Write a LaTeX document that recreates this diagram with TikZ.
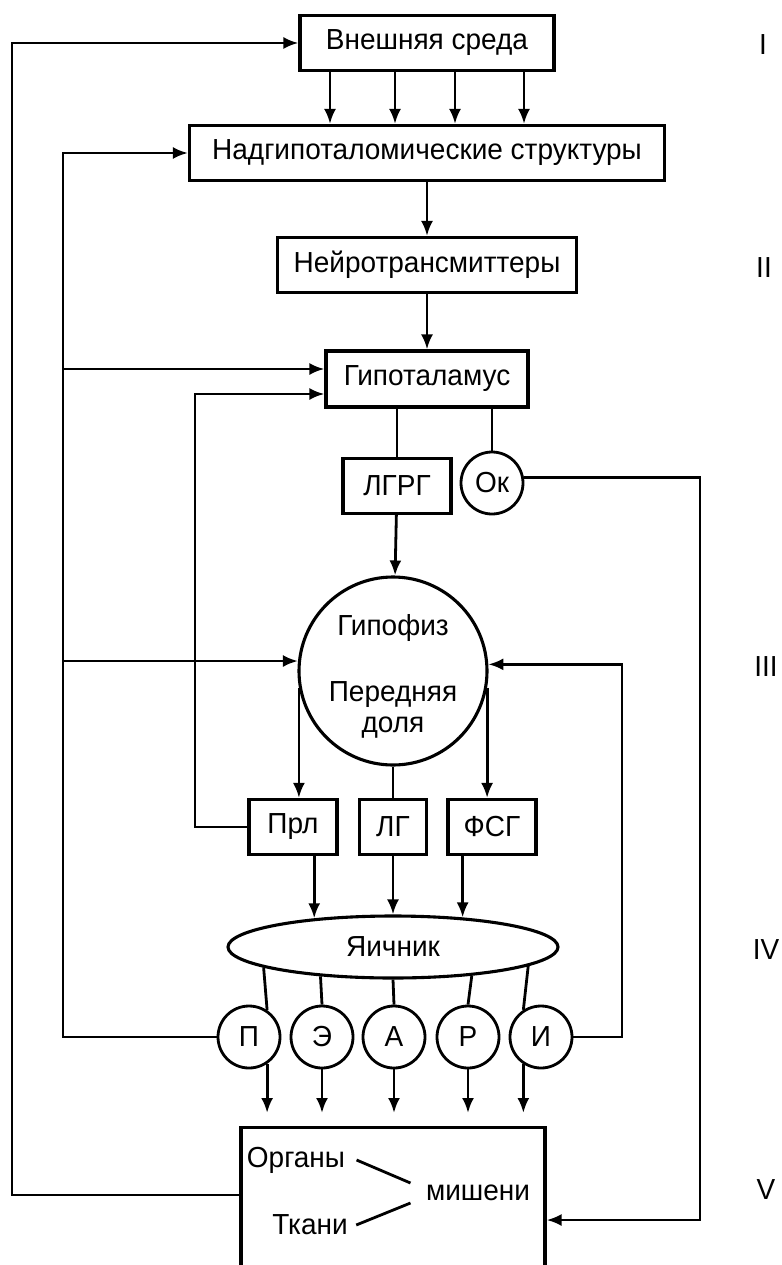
\documentclass[tikz,border=0pt]{standalone}
\usepackage{fontspec}
\setmainfont[FakeStretch=0.965]{Liberation Sans}
\usetikzlibrary{arrows.meta,shapes.geometric}

\tikzset{
  box/.style={draw, line width=3.1pt, minimum height=55pt, inner sep=0pt},
  ring/.style={draw, circle, line width=2.8pt, minimum size=62pt, inner sep=0pt},
  link/.style={line width=2.8pt},
  feed/.style={line width=2.8pt, -{Latex[length=15pt,width=12pt]}},
}

\begin{document}
\begin{tikzpicture}[x=1pt,y=-1pt,font=\fontsize{29}{33}\selectfont]
\path[fill=white] (0,0) rectangle (781,1265);
\useasboundingbox (0,0) rectangle (781,1265);
% Upper chain
\node[box,minimum width=254pt] (env) at (427,43) {Внешняя среда};
\node[box,minimum width=475pt] (supra) at (427,153) {Надгипоталомические структуры};
\node[box,minimum width=299pt] (nt) at (427,265) {Нейротрансмиттеры};
\node[box,minimum width=202pt,minimum height=56pt] (hyp) at (427,379) {Гипоталамус};
\node[box,minimum width=108pt] (lhrh) at (397,486) {ЛГРГ};
\node[ring] (ok) at (492,483) {Ок};
% Pituitary
\node[draw,circle,line width=3.1pt,minimum size=188pt,inner sep=0pt] (pit) at (393,671) {};
\node (pit1) at (393,628) {Гипофиз};
\node (pit2) at (393,695) {Передняя};
\node (pit3) at (393,728) {доля};
\node[box,minimum width=88pt] (prl) at (293,827) {Прл};
\node[box,minimum width=67pt] (lg) at (393,827) {ЛГ};
\node[box,minimum width=88pt] (fsh) at (492,827) {ФСГ};
% Ovary and its hormones
\node[draw,ellipse,line width=3.1pt,minimum width=330pt,minimum height=62pt,inner sep=0pt] (ov) at (393,947) {Яичник};
\foreach \n/\t/\x in {hp/П/249, he/Э/322, ha/А/394, hr/Р/468, hi/И/541}
  \node[ring] (\n) at (\x,1037) {\t};
% Targets (box runs off the page)
\node[box,minimum width=304pt,minimum height=200pt,anchor=north] (tgt) at (393,1126) {};
\node (org) at (296,1160) {Органы};
\node (tis) at (310,1225) {Ткани};
\node (mish) at (478,1193) {мишени};
\draw[link] ([xshift=8pt]org.east) -- ([xshift=-12pt,yshift=10pt]mish.west);
\draw[link] ([xshift=5pt]tis.east) -- ([xshift=-12pt,yshift=-10pt]mish.west);
% Levels
\node (lvI) at (763,45) {I};
\node (lvII) at (764,268) {II};
\node (lvIII) at (766,667) {III};
\node (lvIV) at (766,950) {IV};
\node (lvV) at (766,1190) {V};
% Downward links
\foreach \dx in {-97,-32,28,97}
  \draw[feed] ([xshift=\dx pt]env.south) -- ([xshift=\dx pt]supra.north);
\draw[feed] (supra) -- (nt);
\draw[feed] (nt) -- (hyp);
\draw[link] (lhrh.north) -- (lhrh.north |- hyp.south);
\draw[link] (ok.north) -- (ok.north |- hyp.south);
\draw[feed] (lhrh) -- (pit);
\draw[feed] (pit.190) -- (pit.190 |- prl.north);
\draw[feed] (pit.-10) -- (pit.-10 |- fsh.north);
\draw[link] (pit.south) -- (lg.north);
\draw[feed] (ov.160 |- prl.south) -- (ov.160);
\draw[feed] (lg.south) -- (ov.north);
\draw[feed] (ov.23 |- fsh.south) -- (ov.23);
\foreach \a/\n/\b in {-171.1/hp/56.7, -158.5/he/90, -90/ha/90, -20.2/hr/90, -8.2/hi/123.3}
  \draw[link] (ov.\a) -- (\n.\b);
\foreach \n/\b in {hp/-56.7, he/-90, ha/-90, hr/-90, hi/-123.3}
  \draw[feed,shorten >=13pt] (\n.\b) -- (\n.\b |- tgt.north);
% Feedback loops
\coordinate (lbus) at (12,1195);
\coordinate (mbus) at (63,1040);
\coordinate (pbus) at (195,827);
\coordinate (ibus) at (622,1037);
\coordinate (obus) at (700,1220);
\coordinate (hypin1) at ([yshift=10pt]hyp.west);
\coordinate (hypin2) at ([yshift=-15pt]hyp.west);
\draw[feed] (lbus -| tgt.west) -- (lbus) |- (env.west);
\draw[feed] (hp.west) -- (hp.west -| mbus) |- (supra.west);
\draw[feed] (hypin1 -| mbus) -- (hypin1);
\draw[feed] (pit.174 -| mbus) -- (pit.174);
\draw[feed] (prl.west) -- (prl.west -| pbus) |- (hypin2);
\draw[feed] (hi.east) -| (ibus |- pit.4) -- (pit.4);
\draw[feed] (ok.10) -| (obus) -- (obus -| tgt.east);
\end{tikzpicture}
\end{document}
